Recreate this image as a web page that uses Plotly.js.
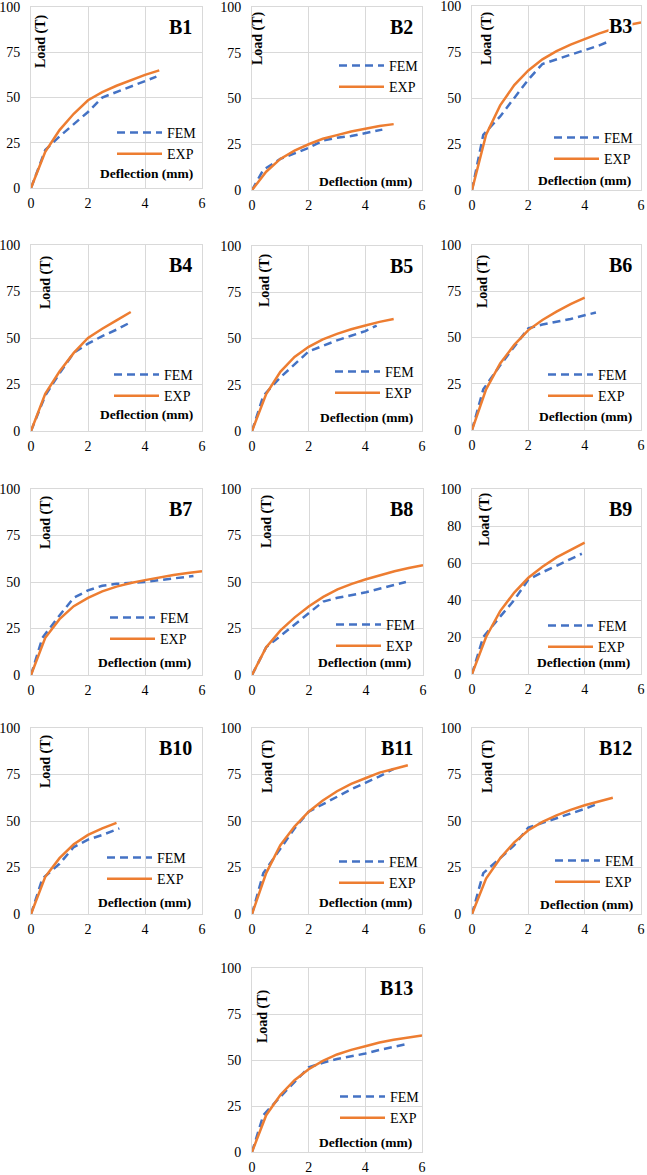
<!DOCTYPE html>
<html>
<head>
<meta charset="utf-8">
<script src="https://cdn.plot.ly/plotly-3.0.1.min.js"></script>
<style>
  html, body { margin: 0; padding: 0; background: #ffffff; }
  #chart { width: 647px; height: 1175px; }
</style>
</head>
<body>
<div id="chart"></div>
<script>
// Load–deflection curves of beams B1–B13: finite-element model (FEM) vs. test (EXP)

const panelNames = ['B1', 'B2', 'B3', 'B4', 'B5', 'B6', 'B7', 'B8', 'B9', 'B10', 'B11', 'B12', 'B13'];
const seriesNames = ['FEM', 'EXP'];
const xTicks = [0, 2, 4, 6];
const yTicks = [0, 25, 50, 75, 100];
const yTicksB9 = [0, 20, 40, 60, 80, 100];

// deflection (mm) / load (T)
const b1FemX = [0, 0.5, 1, 1.5, 2, 2.5, 3, 3.5, 4, 4.4];
const b1FemY = [0, 21, 28.5, 35.5, 42, 50, 53, 56, 59, 61.5];
const b1ExpX = [0, 0.5, 1, 1.5, 2, 2.5, 3, 3.5, 4, 4.5];
const b1ExpY = [0, 20, 32, 41, 48.5, 53, 56.5, 59.5, 62.5, 65];

const b2FemX = [0, 0.4, 1, 1.5, 2, 2.5, 3, 3.5, 4, 4.6];
const b2FemY = [0, 11, 17, 20, 23, 27, 28.5, 29.5, 31, 33];
const b2ExpX = [0, 0.5, 1, 1.5, 2, 2.5, 3, 3.5, 4, 4.5, 5];
const b2ExpY = [0, 10, 17, 21.5, 25, 28, 30, 32, 33.5, 35, 36];

const b3FemX = [0, 0.4, 1, 1.5, 2, 2.5, 3, 3.5, 4, 4.5, 4.9];
const b3FemY = [0, 30, 40, 50, 60, 68.5, 71, 73.5, 76, 78.5, 81];
const b3ExpX = [0, 0.5, 1, 1.5, 2, 2.5, 3, 3.5, 4, 4.5, 5, 5.5, 6];
const b3ExpY = [0, 30, 46, 57, 65, 71, 75.5, 79, 82, 85, 87.5, 89.5, 91];

const b4FemX = [0, 0.5, 1, 1.5, 2, 2.5, 3, 3.5];
const b4FemY = [0, 19, 31, 42, 47, 51, 54.5, 58.5];
const b4ExpX = [0, 0.5, 1, 1.5, 2, 2.5, 3, 3.5];
const b4ExpY = [0, 20, 32, 42, 50, 55, 59.5, 64];

const b5FemX = [0, 0.4, 1, 1.5, 2, 2.5, 3, 3.5, 4, 4.4];
const b5FemY = [0, 19, 29, 36, 43, 46, 49, 51.5, 54, 57];
const b5ExpX = [0, 0.5, 1, 1.5, 2, 2.5, 3, 3.5, 4, 4.5, 5];
const b5ExpY = [0, 20, 32, 40, 45.5, 49.5, 52.5, 55, 57, 59, 60.5];

const b6FemX = [0, 0.4, 1, 1.5, 2, 2.5, 3, 3.5, 4, 4.4];
const b6FemY = [0, 22, 35, 45, 55, 57, 58.5, 60, 62, 63.5];
const b6ExpX = [0, 0.5, 1, 1.5, 2, 2.5, 3, 3.5, 4];
const b6ExpY = [0, 22, 36, 46, 54, 59.5, 64, 68, 71.5];

const b7FemX = [0, 0.4, 1, 1.5, 2, 2.5, 3, 3.5, 4, 4.5, 5, 5.7];
const b7FemY = [0, 20, 32, 41.5, 45.5, 48, 49, 49.5, 50, 51, 52, 53.2];
const b7ExpX = [0, 0.5, 1, 1.5, 2, 2.5, 3, 3.5, 4, 4.5, 5, 5.5, 6];
const b7ExpY = [0, 20, 30, 37, 41.5, 45, 47.5, 49.5, 51, 52.5, 53.8, 54.8, 55.8];

const b8FemX = [0, 0.5, 1, 1.5, 2, 2.5, 3, 3.5, 4, 4.5, 5, 5.4];
const b8FemY = [0, 15, 21, 27, 33, 39.5, 41.5, 43, 44.5, 46.5, 48.5, 50];
const b8ExpX = [0, 0.5, 1, 1.5, 2, 2.5, 3, 3.5, 4, 4.5, 5, 5.5, 6];
const b8ExpY = [0, 15, 24, 31, 37, 42, 46, 49, 51.5, 53.8, 55.8, 57.5, 59];

const b9FemX = [0, 0.4, 1, 1.5, 2, 2.5, 3, 3.5, 3.9];
const b9FemY = [0, 20, 31, 40, 51, 55, 58.5, 62, 65];
const b9ExpX = [0, 0.5, 1, 1.5, 2, 2.5, 3, 3.5, 4];
const b9ExpY = [0, 20, 34, 44, 52, 58, 63, 67, 71];

const b10FemX = [0, 0.4, 1, 1.5, 2, 2.5, 3.1];
const b10FemY = [0, 19, 27, 36, 40, 42.5, 46];
const b10ExpX = [0, 0.5, 1, 1.5, 2, 2.5, 3];
const b10ExpY = [0, 20, 30, 37.5, 42.5, 46, 49];

const b11FemX = [0, 0.4, 1, 1.5, 2, 2.5, 3, 3.5, 4, 4.5, 5];
const b11FemY = [0, 22, 35, 46, 55, 59, 63, 67, 70.5, 74, 78];
const b11ExpX = [0, 0.5, 1, 1.5, 2, 2.5, 3, 3.5, 4, 4.5, 5, 5.5];
const b11ExpY = [0, 22, 37, 47, 55, 61, 66, 70, 73, 76, 78, 80];

const b12FemX = [0, 0.4, 1, 1.5, 2, 2.5, 3, 3.5, 4, 4.5];
const b12FemY = [0, 22, 30, 37, 46.5, 49, 51.5, 54, 56.5, 59.5];
const b12ExpX = [0, 0.5, 1, 1.5, 2, 2.5, 3, 3.5, 4, 4.5, 5];
const b12ExpY = [0, 19, 30, 38.5, 45, 49.5, 53, 56, 58.5, 60.5, 62.5];

const b13FemX = [0, 0.4, 1, 1.5, 2, 2.5, 3, 3.5, 4, 4.5, 5, 5.4];
const b13FemY = [0, 20, 30, 38, 46, 48.5, 50.5, 52, 53.5, 55.5, 57, 58.5];
const b13ExpX = [0, 0.5, 1, 1.5, 2, 2.5, 3, 3.5, 4, 4.5, 5, 5.5, 6];
const b13ExpY = [0, 20, 31, 39, 45, 49.5, 53, 55.5, 57.5, 59.5, 61, 62.3, 63.3];

const femSeries = [
  [b1FemX, b1FemY], [b2FemX, b2FemY], [b3FemX, b3FemY], [b4FemX, b4FemY],
  [b5FemX, b5FemY], [b6FemX, b6FemY], [b7FemX, b7FemY], [b8FemX, b8FemY],
  [b9FemX, b9FemY], [b10FemX, b10FemY], [b11FemX, b11FemY], [b12FemX, b12FemY],
  [b13FemX, b13FemY]
];
const expSeries = [
  [b1ExpX, b1ExpY], [b2ExpX, b2ExpY], [b3ExpX, b3ExpY], [b4ExpX, b4ExpY],
  [b5ExpX, b5ExpY], [b6ExpX, b6ExpY], [b7ExpX, b7ExpY], [b8ExpX, b8ExpY],
  [b9ExpX, b9ExpY], [b10ExpX, b10ExpY], [b11ExpX, b11ExpY], [b12ExpX, b12ExpY],
  [b13ExpX, b13ExpY]
];

// ---- page geometry (pixels) ----
const W = 647, H = 1175;
const FONT = 'Liberation Serif';
const BLUE = '#4472C4', ORANGE = '#ED7D31', GRID = '#d9d9d9';

// plot boxes: [left, right, top, bottom]
const boxes = [
  [31, 202, 7, 188], [252, 422, 7, 190], [472, 641, 6, 190],
  [31, 202, 245, 431], [252, 422, 246, 431], [472, 641, 245, 430],
  [31, 202, 489, 675], [252, 423, 489, 675], [472, 641, 489, 674],
  [31, 202, 728, 914], [252, 422, 728, 914], [472, 641, 728, 914],
  [252, 422, 968, 1152]
];
// "Load (T)" label centre [x, y]
const loadPos = [
  [41, 41], [258, 38], [487, 38],
  [46, 282], [265, 280], [483, 281],
  [46, 522], [267, 521], [485, 519],
  [46, 761], [268, 766], [488, 766],
  [263, 1016]
];
// "Deflection (mm)" label: [right edge x, centre y]
const deflPos = [
  [195, 174], [414, 182], [633, 180],
  [195, 415], [415, 417], [634, 416],
  [193, 662], [413, 663], [632, 662],
  [193, 902], [414, 902], [635, 904],
  [414, 1142]
];
// legend: [line start x, FEM row centre y]
const legendPos = [
  [120, 132], [342, 65], [557, 137],
  [117, 374], [338, 371], [551, 374],
  [113, 617], [339, 624], [551, 625],
  [110, 857], [342, 861], [558, 860],
  [343, 1096]
];

const px = v => v / W;
const py = v => 1 - v / H;

const data = [];
const layout = {
  width: W,
  height: H,
  margin: { l: 0, r: 0, t: 0, b: 0 },
  paper_bgcolor: '#ffffff',
  plot_bgcolor: '#ffffff',
  font: { family: FONT, size: 14, color: '#000000' },
  showlegend: true,
  annotations: []
};

panelNames.forEach((name, i) => {
  const n = i + 1;
  const sfx = n === 1 ? '' : String(n);
  const xa = 'x' + sfx, ya = 'y' + sfx;
  const legKey = 'legend' + sfx;
  const b = boxes[i];
  const yt = name === 'B9' ? yTicksB9 : yTicks;

  layout['xaxis' + sfx] = {
    domain: [px(b[0]), px(b[1])],
    anchor: ya,
    range: [0, 6],
    tickvals: xTicks,
    ticktext: xTicks.map(String),
    showgrid: true,
    gridcolor: GRID,
    gridwidth: 1,
    zeroline: false,
    showline: true,
    mirror: true,
    linecolor: GRID,
    linewidth: 1,
    ticks: '',
    ticklabelstandoff: 2,
    ticklabeloverflow: 'allow',
    tickfont: { family: FONT, size: 14, color: '#000000' },
    fixedrange: true
  };
  layout['yaxis' + sfx] = {
    domain: [py(b[3]), py(b[2])],
    anchor: xa,
    range: [0, 100],
    tickvals: yt,
    ticktext: yt.map(String),
    showgrid: true,
    gridcolor: GRID,
    gridwidth: 1,
    zeroline: false,
    showline: true,
    mirror: true,
    linecolor: GRID,
    linewidth: 1,
    ticks: '',
    ticklabelstandoff: 7,
    ticklabeloverflow: 'allow',
    tickfont: { family: FONT, size: 14, color: '#000000' },
    fixedrange: true
  };

  const lp = legendPos[i];
  layout[legKey] = {
    x: px(lp[0] - 8),
    y: py(lp[1] - 15),
    xanchor: 'left',
    yanchor: 'top',
    bgcolor: 'rgba(0,0,0,0)',
    borderwidth: 0,
    itemwidth: 45,
    tracegroupgap: 0,
    traceorder: 'normal',
    font: { family: FONT, size: 14, color: '#000000' }
  };

  const fem = femSeries[i], exp = expSeries[i];
  data.push({
    type: 'scatter', mode: 'lines', name: seriesNames[0],
    x: fem[0], y: fem[1], xaxis: xa, yaxis: ya, legend: legKey,
    line: { color: BLUE, width: 2.5, dash: '8px,5px' },
    hoverinfo: 'x+y'
  });
  data.push({
    type: 'scatter', mode: 'lines', name: seriesNames[1],
    x: exp[0], y: exp[1], xaxis: xa, yaxis: ya, legend: legKey,
    line: { color: ORANGE, width: 2.5 },
    hoverinfo: 'x+y'
  });

  // panel tag
  layout.annotations.push({
    xref: xa + ' domain', yref: ya + ' domain',
    x: 0.95, y: 0.89, xanchor: 'right', yanchor: 'middle',
    text: '<b>' + name + '</b>', showarrow: false,
    bgcolor: '#ffffff', borderpad: 0,
    font: { family: FONT, size: 20, color: '#000000' }
  });
  // axis captions
  layout.annotations.push({
    xref: 'paper', yref: 'paper',
    x: px(loadPos[i][0]), y: py(loadPos[i][1]),
    xanchor: 'center', yanchor: 'middle', textangle: -90,
    text: '<b>Load (T)</b>', showarrow: false,
    font: { family: FONT, size: 14, color: '#000000' }
  });
  layout.annotations.push({
    xref: 'paper', yref: 'paper',
    x: px(deflPos[i][0]), y: py(deflPos[i][1]),
    xanchor: 'right', yanchor: 'middle',
    text: '<b>Deflection (mm)</b>', showarrow: false,
    font: { family: FONT, size: 13.5, color: '#000000' }
  });
});

Plotly.newPlot('chart', data, layout, { displayModeBar: false, staticPlot: true });
</script>
</body>
</html>
